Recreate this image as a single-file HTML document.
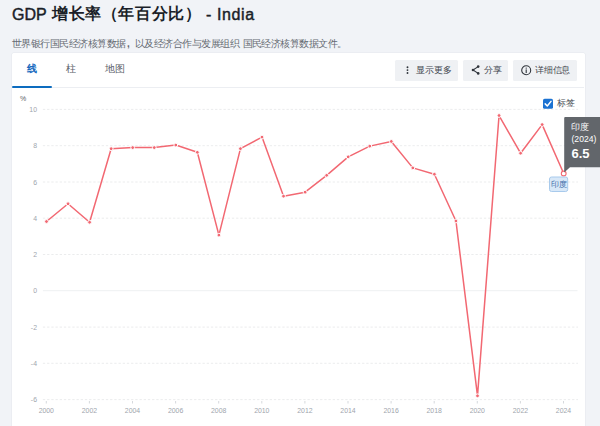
<!DOCTYPE html>
<html><head><meta charset="utf-8">
<style>
*{margin:0;padding:0;box-sizing:border-box}
html,body{width:600px;height:426px;overflow:hidden;background:#f1f3f7;font-family:"Liberation Sans",sans-serif}
.abs{position:absolute;white-space:nowrap}
.ttl{font-size:16px;font-weight:normal;-webkit-text-stroke:0.45px #1b1f29;color:#1b1f29;line-height:20px}
.ttlc{font-size:16px;letter-spacing:0.6px;font-weight:bold;color:#1b1f29;line-height:20px}
.sub{top:37.5px;font-size:10px;letter-spacing:-0.55px;color:#666b73;line-height:12px}
#card{left:12px;top:53px;width:572.5px;height:380px;background:#fff;border-radius:1.5px;box-shadow:0 0 0 0.5px #e5e8ed}
.tab{top:62px;font-size:10px;line-height:13px;color:#5b6169}
#tab1{left:27px;color:#176abe;font-weight:bold}
#tab2{left:66px}
#tab3{left:105px}
#tabline{left:12px;top:86px;width:40px;height:2px;background:#0d6cbf;border-radius:1px}
#sep{left:12px;top:87px;width:572px;height:1px;background:#eceef2}
.btn{top:60px;height:21px;background:#eff1f4;border-radius:2px;font-size:8.6px;color:#42474f;line-height:21px;border-radius:1.5px}
#b1{left:395px;width:63px}
#b2{left:463px;width:45px}
#b3{left:513px;width:64px}
.ax{font-size:6px;color:#9aa0a8;line-height:8px}
</style></head><body>
<div class="abs ttl" style="left:12px;top:4.5px">GDP</div>
<div class="abs ttlc" style="left:52px;top:4px">增长率（年百分比）</div>
<div class="abs ttl" style="left:206px;top:4.5px;letter-spacing:0.6px">- India</div>
<div class="abs sub" style="left:12px">世界银行国民经济核算数据</div>
<div class="abs sub" style="left:127px;font-weight:bold;letter-spacing:0">,</div>
<div class="abs sub" style="left:135px">以及经济合作与发展组织</div>
<div class="abs sub" style="left:242.5px">国民经济核算数据文件。</div>
<div id="card" class="abs"></div>
<div id="tab1" class="abs tab">线</div>
<div id="tab2" class="abs tab">柱</div>
<div id="tab3" class="abs tab">地图</div>
<div id="sep" class="abs"></div>
<div id="tabline" class="abs"></div>
<div id="b1" class="abs btn"><svg style="position:absolute;left:10.5px;top:6px" width="3" height="9" viewBox="0 0 3 9"><circle cx="1.5" cy="1.2" r="0.95" fill="#2f343b"/><circle cx="1.5" cy="4.1" r="0.95" fill="#2f343b"/><circle cx="1.5" cy="7" r="0.95" fill="#2f343b"/></svg><span style="position:absolute;left:21px">显示更多</span></div>
<div id="b2" class="abs btn"><svg style="position:absolute;left:7.5px;top:5px" width="10" height="10" viewBox="0 0 10 10"><path d="M7.2,1.6 L2,5 L7.2,8.4" stroke="#2f343b" stroke-width="1.1" fill="none"/><circle cx="7.2" cy="1.6" r="1.3" fill="#2f343b"/><circle cx="2" cy="5" r="1.3" fill="#2f343b"/><circle cx="7.2" cy="8.4" r="1.3" fill="#2f343b"/></svg><span style="position:absolute;left:21px">分享</span></div>
<div id="b3" class="abs btn"><svg style="position:absolute;left:7.5px;top:5px" width="11" height="11" viewBox="0 0 11 11"><circle cx="5.2" cy="5.2" r="4.5" stroke="#2f343b" stroke-width="1.1" fill="none"/><circle cx="5.2" cy="3.1" r="0.7" fill="#2f343b"/><rect x="4.65" y="4.4" width="1.1" height="3.6" fill="#2f343b"/></svg><span style="position:absolute;left:22px;letter-spacing:-0.2px">详细信息</span></div>

<svg class="abs" style="left:0;top:0" width="600" height="426" viewBox="0 0 600 426">
  <g stroke="#e6e7e9" stroke-width="0.8" stroke-dasharray="2.3 1.9">
    <line x1="42.9" y1="109.4" x2="578" y2="109.4"/>
    <line x1="42.9" y1="145.7" x2="578" y2="145.7"/>
    <line x1="42.9" y1="182" x2="578" y2="182"/>
    <line x1="42.9" y1="218.2" x2="578" y2="218.2"/>
    <line x1="42.9" y1="254.5" x2="578" y2="254.5"/>
    <line x1="42.9" y1="327.1" x2="578" y2="327.1"/>
    <line x1="42.9" y1="363.3" x2="578" y2="363.3"/>
    <line x1="42.9" y1="399.6" x2="578" y2="399.6"/>
  </g>
  <line x1="42.9" y1="290.7" x2="577.5" y2="290.7" stroke="#eef0f2" stroke-width="1"/>
  <g fill="#a0a5ad" font-family="Liberation Sans" font-size="6.9" text-anchor="end">
    <text x="37" y="112">10</text>
    <text x="37" y="148.3">8</text>
    <text x="37" y="184.6">6</text>
    <text x="37" y="220.8">4</text>
    <text x="37" y="257.1">2</text>
    <text x="37" y="293.4">0</text>
    <text x="37" y="329.7">-2</text>
    <text x="37" y="365.9">-4</text>
    <text x="37" y="402.2">-6</text>
  </g>
  <text x="20" y="101" fill="#5c6168" font-family="Liberation Sans" font-size="7">%</text>
  <g stroke="#c4c8ce" stroke-width="0.7">
    <line x1="46.3" y1="401" x2="46.3" y2="403.5"/>
    <line x1="89.4" y1="401" x2="89.4" y2="403.5"/>
    <line x1="132.5" y1="401" x2="132.5" y2="403.5"/>
    <line x1="175.6" y1="401" x2="175.6" y2="403.5"/>
    <line x1="218.7" y1="401" x2="218.7" y2="403.5"/>
    <line x1="261.8" y1="401" x2="261.8" y2="403.5"/>
    <line x1="304.9" y1="401" x2="304.9" y2="403.5"/>
    <line x1="348.0" y1="401" x2="348.0" y2="403.5"/>
    <line x1="391.1" y1="401" x2="391.1" y2="403.5"/>
    <line x1="434.2" y1="401" x2="434.2" y2="403.5"/>
    <line x1="477.3" y1="401" x2="477.3" y2="403.5"/>
    <line x1="520.4" y1="401" x2="520.4" y2="403.5"/>
    <line x1="563.5" y1="401" x2="563.5" y2="403.5"/>
  </g>
  <g fill="#a0a5ad" font-family="Liberation Sans" font-size="6.9" text-anchor="middle">
    <text x="46.3" y="413">2000</text>
    <text x="89.4" y="413">2002</text>
    <text x="132.5" y="413">2004</text>
    <text x="175.6" y="413">2006</text>
    <text x="218.7" y="413">2008</text>
    <text x="261.8" y="413">2010</text>
    <text x="304.9" y="413">2012</text>
    <text x="348.0" y="413">2014</text>
    <text x="391.1" y="413">2016</text>
    <text x="434.2" y="413">2018</text>
    <text x="477.3" y="413">2020</text>
    <text x="520.4" y="413">2022</text>
    <text x="563.5" y="413">2024</text>
  </g>
  <polyline fill="none" stroke="#f26872" stroke-width="1.5" stroke-linejoin="round" points="46.50,221.52 68.05,203.76 89.60,222.24 111.15,148.68 132.70,147.59 154.25,147.59 175.80,145.05 197.35,152.30 218.90,235.11 240.45,148.68 262.00,137.08 283.55,196.15 305.10,192.16 326.65,175.31 348.20,156.83 369.75,146.14 391.30,141.43 412.85,167.88 434.40,174.23 455.95,220.98 477.50,395.83 499.05,115.52 520.60,153.21 542.15,124.58 563.70,173.50"/>
  <g fill="#f26872" stroke="#fff" stroke-width="1">
    <circle cx="46.50" cy="221.52" r="1.9"/>
    <circle cx="68.05" cy="203.76" r="1.9"/>
    <circle cx="89.60" cy="222.24" r="1.9"/>
    <circle cx="111.15" cy="148.68" r="1.9"/>
    <circle cx="132.70" cy="147.59" r="1.9"/>
    <circle cx="154.25" cy="147.59" r="1.9"/>
    <circle cx="175.80" cy="145.05" r="1.9"/>
    <circle cx="197.35" cy="152.30" r="1.9"/>
    <circle cx="218.90" cy="235.11" r="1.9"/>
    <circle cx="240.45" cy="148.68" r="1.9"/>
    <circle cx="262.00" cy="137.08" r="1.9"/>
    <circle cx="283.55" cy="196.15" r="1.9"/>
    <circle cx="305.10" cy="192.16" r="1.9"/>
    <circle cx="326.65" cy="175.31" r="1.9"/>
    <circle cx="348.20" cy="156.83" r="1.9"/>
    <circle cx="369.75" cy="146.14" r="1.9"/>
    <circle cx="391.30" cy="141.43" r="1.9"/>
    <circle cx="412.85" cy="167.88" r="1.9"/>
    <circle cx="434.40" cy="174.23" r="1.9"/>
    <circle cx="455.95" cy="220.98" r="1.9"/>
    <circle cx="477.50" cy="395.83" r="1.9"/>
    <circle cx="499.05" cy="115.52" r="1.9"/>
    <circle cx="520.60" cy="153.21" r="1.9"/>
    <circle cx="542.15" cy="124.58" r="1.9"/>
  </g>
  <circle cx="563.70" cy="173.50" r="2.4" fill="#fff" stroke="#f26872" stroke-width="1.1"/>
  <rect x="543" y="98.8" width="10" height="10" rx="1.6" fill="#1b72d2"/>
  <path d="M545.2,103.9 L547.3,106 L551,101.4" stroke="#fff" stroke-width="1.5" fill="none" stroke-linecap="round" stroke-linejoin="round"/>
  <path d="M564.2,118 Q564.2,117 565.2,117 H600 V167.2 H570 L564.2,172.6 Z" fill="#62666b"/>
  <rect x="549.5" y="177" width="18.2" height="14.5" rx="2" fill="#d8e8f8" stroke="#a8caec" stroke-width="1"/>
</svg>
<div class="abs" style="left:556.5px;top:97px;font-size:9px;line-height:12px;color:#4a4f57">标签</div>
<div class="abs" style="left:571px;top:120.5px;font-size:8.6px;line-height:12px;color:#fff">印度</div>
<div class="abs" style="left:571.5px;top:133px;font-size:8.6px;line-height:12px;color:#fff">(2024)</div>
<div class="abs" style="left:571.5px;top:145.5px;font-size:13px;line-height:16px;color:#fff;font-weight:bold">6.5</div>
<div class="abs" style="left:550.8px;top:178.7px;font-size:8px;line-height:12px;color:#3d6ca8">印度</div>
</body></html>
